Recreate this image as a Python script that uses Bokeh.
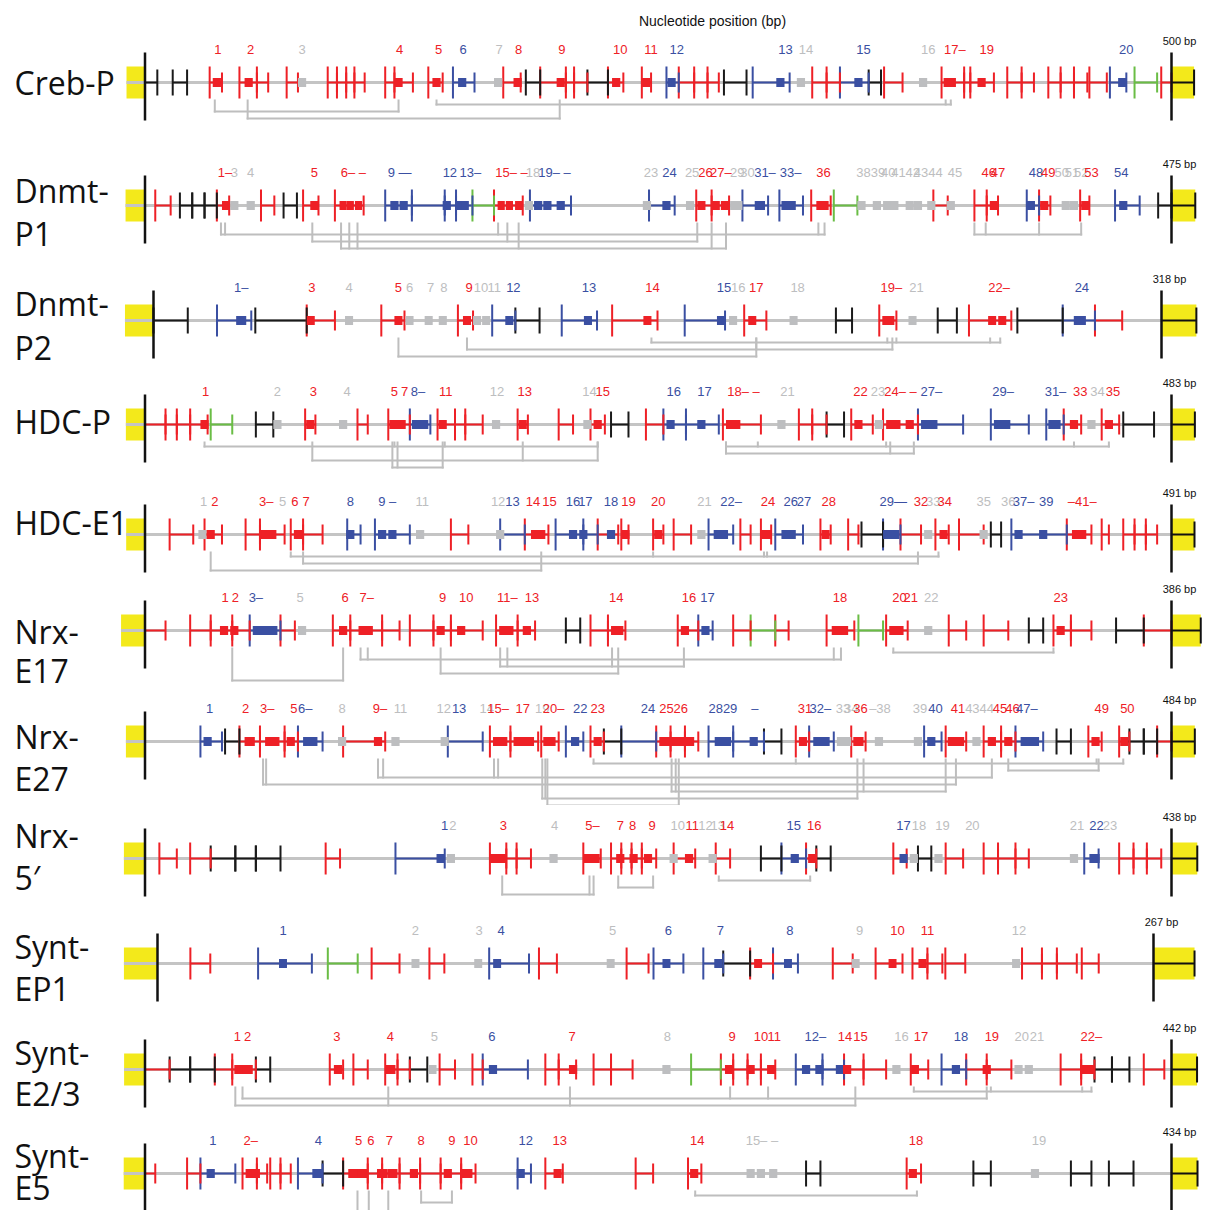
from bokeh.plotting import figure
from bokeh.models import Range1d, Label, ColumnDataSource
from bokeh.layouts import column
from bokeh.embed import file_html
from bokeh.resources import INLINE
from bokeh.core.properties import value

# ---------------- data (positions in per-mille of promoter length) ----------------
TITLE = "Nucleotide position (bp)"
ROW_NAMES = [["Creb-P"], ["Dnmt-", "P1"], ["Dnmt-", "P2"], ["HDC-P"], ["HDC-E1"],
             ["Nrx-", "E17"], ["Nrx-", "E27"], ["Nrx-", "5\u2032"], ["Synt-", "EP1"],
             ["Synt-", "E2/3"], ["Synt-", "E5"]]
ROW_LENGTHS = [500, 475, 318, 483, 491, 386, 484, 438, 267, 442, 434]
LEFT_BOX_BP = 9
RIGHT_BOX_BP = 11

CREB_SEGS = [(0,12,'k'),(27,41,'k'),(63,75,'r'),(92,109,'r'),(109,120,'r'),(138,149,'r'),
    (178,187,'r'),(187,196,'r'),(196,204,'r'),(204,214,'r'),(234,243,'r'),(243,261,'r'),
    (276,290,'r'),(300,321,'b'),(349,366,'r'),(371,385,'k'),(385,410,'r'),(410,418,'r'),
    (418,431,'r'),(431,451,'k'),(451,466,'r'),(484,493,'r'),(508,520,'b'),(520,535,'r'),
    (535,548,'r'),(548,559,'r'),(564,586,'k'),(592,628,'b'),(650,664,'r'),(664,677,'r'),
    (677,705,'b'),(705,717,'k'),(720,738,'r'),(776,798,'r'),(798,804,'r'),(804,827,'r'),
    (840,854,'r'),(854,866,'r'),(880,892,'r'),(892,905,'r'),(905,918,'r'),(920,937,'r'),
    (940,956,'b'),(964,986,'g'),(990,1000,'r')]
CREB_BOXES = [(70,8,'r'),(101,8,'r'),(153,8,'x'),(247,8,'r'),(284,8,'r'),(309,8,'b'),
    (344,8,'x'),(363,8,'r'),(405,8,'r'),(459,8,'r'),(488,8,'r'),(513,8,'b'),(619,8,'b'),
    (639,8,'x'),(695,8,'b'),(758,8,'x'),(784,12,'r'),(815,8,'r'),(952,8,'b')]
CREB_LABELS = [(71,'1','r'),(103,'2','r'),(153,'3','x'),(248,'4','r'),(286,'5','r'),
    (310,'6','b'),(345,'7','x'),(364,'8','r'),(406,'9','r'),(463,'10','r'),(493,'11','r'),
    (518,'12','b'),(624,'13','b'),(644,'14','x'),(700,'15','b'),(763,'16','x'),
    (789,'17\u2013','r'),(820,'19','r'),(956,'20','b')]
CREB_BRACKETS = [(0,[284,780,785]),(1,[68,247]),(2,[100,404])]

DNMT1_SEGS = [(10,25,'r'),(34,46,'k'),(46,58,'k'),(58,70,'k'),(70,82,'r'),(113,126,'r'),
    (135,148,'k'),(154,169,'r'),(185,213,'r'),(234,260,'b'),(260,292,'b'),(292,303,'b'),
    (303,319,'b'),(319,340,'g'),(340,368,'r'),(375,415,'b'),(491,516,'b'),(537,552,'r'),
    (552,569,'r'),(582,607,'b'),(618,641,'b'),(649,668,'r'),(671,694,'g'),(768,782,'r'),
    (808,820,'r'),(820,831,'r'),(859,871,'b'),(871,882,'r'),(911,920,'r'),(945,969,'b'),
    (987,1000,'k')]
DNMT1_BOXES = [(79,8,'r'),(87,8,'x'),(103,8,'x'),(165,8,'r'),(193,7,'r'),(200,7,'r'),
    (208,7,'r'),(243,8,'b'),(252,8,'b'),(294,8,'b'),(306,7,'b'),(312,7,'b'),(347,7,'r'),
    (355,7,'r'),(364,7,'r'),(374,8,'x'),(383,8,'b'),(392,8,'b'),(405,8,'b'),(489,8,'x'),
    (508,8,'b'),(531,8,'x'),(542,8,'r'),(556,8,'r'),(565,8,'r'),(576,12,'x'),(599,10,'b'),
    (627,14,'b'),(660,12,'r'),(698,8,'x'),(713,8,'x'),(723,8,'x'),(730,8,'x'),(745,8,'x'),
    (753,8,'x'),(766,8,'x'),(785,8,'x'),(827,8,'r'),(863,8,'b'),(876,8,'r'),(897,8,'x'),
    (905,8,'x'),(916,8,'r'),(953,8,'b')]
DNMT1_LABELS = [(78,'1\u2013','r'),(87,'3','x'),(103,'4','x'),(165,'5','r'),(203,'6\u2013 \u2013','r'),
    (248,'9 \u2014','b'),(297,'12','b'),(317,'13\u2013','b'),(357,'15\u2013 \u2013','r'),(378,'18','x'),
    (399,'19\u2013 \u2013','b'),(493,'23','x'),(511,'24','b'),(533,'25','x'),(546,'26','r'),
    (561,'27\u2013','r'),(577,'29','x'),(587,'30','x'),(604,'31\u2013','b'),(629,'33\u2013','b'),
    (661,'36','r'),(700,'38','x'),(714,'39','x'),(724,'40','x'),(734,'41','x'),(748,'42','x'),
    (756,'43','x'),(770,'44','x'),(789,'45','x'),(822,'46','r'),(831,'47','r'),(868,'48','b'),
    (880,'49','r'),(893,'50','x'),(903,'51','x'),(912,'52','x'),(922,'53','r'),(951,'54','b')]
DNMT1_BRACKETS = [(1,[74,78,344,656,662]),(1,[808,819,871,912]),(2,[163,353,538]),
    (3,[191,199,207,364,552,566])]

DNMT2_SEGS = [(0,34,'k'),(63,97,'b'),(101,152,'k'),(152,180,'r'),(226,249,'r'),(302,317,'r'),
    (336,359,'b'),(359,383,'k'),(405,440,'b'),(455,500,'r'),(527,567,'b'),(586,608,'r'),
    (677,693,'k'),(720,737,'r'),(778,797,'k'),(809,851,'r'),(857,902,'k'),(902,934,'b'),
    (934,961,'r')]
DNMT2_BOXES = [(87,10,'b'),(156,8,'r'),(194,8,'x'),(243,8,'r'),(254,8,'x'),(273,8,'x'),
    (287,8,'x'),(311,8,'r'),(321,8,'x'),(330,8,'x'),(353,8,'b'),(431,8,'b'),(490,8,'r'),
    (563,8,'b'),(575,8,'x'),(594,8,'r'),(635,8,'x'),(729,12,'r'),(753,8,'x'),(832,8,'r'),
    (842,8,'r'),(919,12,'b')]
DNMT2_LABELS = [(87,'1\u2013','b'),(157,'3','r'),(194,'4','x'),(243,'5','r'),(254,'6','x'),
    (275,'7','x'),(288,'8','x'),(313,'9','r'),(325,'10','x'),(338,'11','x'),(357,'12','b'),
    (432,'13','b'),(495,'14','r'),(566,'15','b'),(580,'16','x'),(598,'17','r'),(639,'18','x'),
    (732,'19\u2013','r'),(757,'21','x'),(839,'22\u2013','r'),(921,'24','b')]
DNMT2_BRACKETS = [(0,[494,728,737,830,840]),(1,[311,598,733]),(2,[243,598])]

HDCP_SEGS = [(0,20,'r'),(20,31,'r'),(31,44,'r'),(44,61,'r'),(64,85,'g'),(108,125,'k'),
    (156,166,'r'),(207,217,'r'),(237,258,'r'),(258,278,'b'),(285,302,'r'),(302,312,'r'),
    (312,329,'r'),(363,373,'r'),(403,417,'r'),(434,448,'r'),(454,471,'k'),(488,505,'r'),
    (505,527,'b'),(527,559,'b'),(563,600,'r'),(637,650,'r'),(650,664,'r'),(664,681,'k'),
    (688,709,'r'),(719,753,'r'),(753,797,'b'),(824,861,'b'),(878,895,'b'),(895,912,'r'),
    (932,949,'r'),(953,983,'k')]
HDCP_BOXES = [(58,8,'r'),(129,8,'x'),(161,8,'r'),(193,8,'x'),(246,16,'r'),(268,16,'b'),
    (290,8,'r'),(342,8,'x'),(368,8,'r'),(431,8,'x'),(441,8,'r'),(512,8,'b'),(542,8,'b'),
    (573,14,'r'),(620,8,'x'),(695,8,'r'),(715,8,'x'),(729,14,'r'),(745,8,'r'),(764,16,'b'),
    (835,16,'b'),(886,12,'b'),(905,8,'r'),(922,8,'x'),(939,8,'r')]
HDCP_LABELS = [(59,'1','r'),(129,'2','x'),(164,'3','r'),(197,'4','x'),(243,'5','r'),
    (253,'7','r'),(266,'8\u2013','b'),(293,'11','r'),(343,'12','x'),(370,'13','r'),
    (433,'14','x'),(446,'15','r'),(515,'16','b'),(545,'17','b'),(583,'18\u2013 \u2013','r'),
    (626,'21','x'),(697,'22','r'),(714,'23','x'),(736,'24\u2013 \u2013','r'),(766,'27\u2013','b'),
    (836,'29\u2013','b'),(887,'31\u2013','b'),(911,'33','r'),(928,'34','x'),(943,'35','r')]
HDCP_BRACKETS = [(0,[58,243,292,441]),(0,[566,597,722,905,939]),(1,[566,726,749]),
    (2,[163,368,441]),(3,[241,246,290])]

HDCE1_SEGS = [(24,47,'r'),(58,75,'r'),(98,112,'r'),(112,136,'r'),(142,154,'r'),(154,173,'r'),
    (197,210,'b'),(224,258,'b'),(298,315,'r'),(346,370,'b'),(370,393,'r'),(400,427,'b'),
    (427,441,'b'),(441,461,'r'),(464,471,'r'),(495,505,'r'),(515,532,'r'),(549,573,'b'),
    (580,590,'r'),(600,610,'r'),(614,641,'b'),(658,668,'r'),(685,695,'r'),(698,719,'k'),
    (719,736,'b'),(736,756,'r'),(770,783,'r'),(793,817,'r'),(824,834,'k'),(844,898,'b'),
    (898,922,'r'),(932,939,'r'),(953,964,'r'),(964,975,'r'),(975,986,'r')]
HDCE1_BOXES = [(56,8,'x'),(64,8,'r'),(120,16,'r'),(149,8,'r'),(200,8,'b'),(231,8,'b'),
    (241,8,'b'),(268,8,'x'),(346,8,'x'),(383,14,'r'),(417,8,'b'),(427,8,'b'),(454,8,'b'),
    (468,8,'r'),(500,8,'r'),(542,8,'x'),(561,14,'b'),(605,10,'r'),(627,14,'b'),(663,8,'r'),
    (727,16,'b'),(763,8,'x'),(778,8,'r'),(817,8,'x'),(851,8,'b'),(875,8,'b'),(910,14,'r')]
HDCE1_LABELS = [(57,'1','x'),(68,'2','r'),(118,'3\u2013','r'),(134,'5','x'),(146,'6','r'),
    (157,'7','r'),(200,'8','b'),(236,'9 \u2013','b'),(270,'11','x'),(344,'12','x'),(358,'13','b'),
    (378,'14','r'),(394,'15','r'),(417,'16','b'),(429,'17','b'),(454,'18','b'),(471,'19','r'),
    (500,'20','r'),(545,'21','x'),(571,'22\u2013','b'),(607,'24','r'),(629,'26','b'),
    (642,'27','b'),(666,'28','r'),(729,'29\u2014','b'),(756,'32','r'),(768,'33','x'),
    (779,'34','r'),(817,'35','x'),(841,'36','x'),(856,'37\u2013','b'),(878,'39','b'),
    (913,'\u201341\u2013','r')]
HDCE1_BRACKETS = [(0,[142,495,603,606,773]),(1,[154,753]),(2,[64,386])]

NRXE17_SEGS = [(0,20,'r'),(44,64,'r'),(64,85,'r'),(85,102,'r'),(102,132,'b'),(132,146,'r'),
    (183,200,'r'),(200,231,'r'),(231,248,'r'),(258,281,'r'),(281,298,'r'),(298,329,'r'),
    (342,363,'r'),(363,380,'r'),(410,424,'k'),(434,451,'r'),(451,468,'r'),(519,539,'r'),
    (539,553,'b'),(573,590,'r'),(590,614,'g'),(614,627,'r'),(664,691,'r'),(695,719,'g'),
    (722,743,'r'),(783,800,'r'),(817,841,'r'),(861,875,'k'),(885,902,'r'),(902,922,'r'),
    (946,973,'k'),(973,1000,'r')]
NRXE17_BOXES = [(77,8,'r'),(87,8,'r'),(117,24,'b'),(153,8,'x'),(193,8,'r'),(215,14,'r'),
    (288,8,'r'),(308,8,'r'),(352,14,'r'),(372,8,'r'),(460,12,'r'),(526,8,'r'),(546,8,'b'),
    (677,16,'r'),(732,14,'r'),(763,8,'x'),(892,8,'r')]
NRXE17_LABELS = [(78,'1','r'),(88,'2','r'),(108,'3\u2013','b'),(151,'5','x'),(195,'6','r'),
    (216,'7\u2013','r'),(290,'9','r'),(313,'10','r'),(353,'11\u2013','r'),(377,'13','r'),
    (459,'14','r'),(530,'16','r'),(548,'17','b'),(677,'18','r'),(735,'20','r'),(746,'21','r'),
    (766,'22','x'),(892,'23','r')]
NRXE17_BRACKETS = [(0,[729,885]),(1,[210,217,671,678]),(2,[346,353,455,525]),(3,[288,461]),
    (4,[85,193])]

NRXE27_SEGS = [(54,75,'b'),(78,92,'k'),(92,112,'r'),(112,136,'r'),(136,149,'r'),(149,173,'b'),
    (193,234,'r'),(295,329,'b'),(336,356,'r'),(356,383,'r'),(386,403,'r'),(410,427,'b'),
    (434,447,'r'),(447,464,'k'),(464,498,'b'),(498,512,'r'),(512,526,'r'),(526,539,'r'),
    (549,573,'b'),(573,603,'b'),(603,620,'k'),(634,647,'r'),(647,671,'b'),(688,702,'r'),
    (759,776,'b'),(780,800,'r'),(817,834,'r'),(834,848,'r'),(848,875,'b'),(888,902,'k'),
    (919,932,'r'),(949,959,'r'),(959,973,'k'),(973,986,'k'),(986,1000,'r')]
NRXE27_BOXES = [(61,8,'b'),(102,10,'r'),(124,14,'r'),(142,8,'r'),(161,14,'b'),(192,8,'x'),
    (227,8,'r'),(244,8,'x'),(292,8,'x'),(346,14,'r'),(369,20,'r'),(394,12,'r'),(419,8,'b'),
    (441,8,'r'),(518,34,'r'),(563,16,'b'),(593,8,'b'),(641,8,'r'),(659,16,'b'),(681,14,'x'),
    (695,10,'r'),(715,8,'x'),(753,8,'x'),(766,8,'b'),(790,16,'r'),(810,8,'x'),(825,8,'r'),
    (841,8,'r'),(862,18,'b'),(926,8,'r'),(954,8,'r')]
NRXE27_LABELS = [(63,'1','b'),(98,'2','r'),(119,'3\u2013','r'),(145,'5','r'),(156,'6\u2013','b'),
    (192,'8','x'),(229,'9\u2013','r'),(249,'11','x'),(291,'12','x'),(306,'13','b'),(333,'14','x'),
    (344,'15\u2013','r'),(368,'17','r'),(387,'19','x'),(398,'20\u2013','r'),(424,'22','b'),
    (441,'23','r'),(490,'24','b'),(508,'25','r'),(522,'26','r'),(556,'28','b'),(570,'29','b'),
    (594,'\u2013','b'),(643,'31','r'),(658,'32\u2013','b'),(680,'33','x'),(688,'34','x'),
    (697,'36','r'),(716,'\u201338','x'),(755,'39','x'),(770,'40','b'),(792,'41','r'),
    (806,'43','x'),(820,'44','x'),(833,'45','r'),(845,'46','r'),(859,'47\u2013','b'),
    (932,'49','r'),(957,'50','r')]
NRXE27_BRACKETS = [(0,[437,634,927,953]),(1,[841,929]),(2,[227,232,340,344,825]),
    (3,[115,118,790]),(4,[513,517,700,780]),(5,[387,390,694]),(6,[392,520])]

NRX5_SEGS = [(14,31,'r'),(44,64,'r'),(64,88,'k'),(88,108,'k'),(108,132,'k'),(176,190,'r'),
    (244,292,'b'),(336,352,'r'),(352,362,'r'),(362,376,'r'),(427,444,'r'),(454,464,'r'),
    (464,474,'r'),(474,484,'r'),(484,498,'r'),(515,536,'r'),(556,570,'r'),(600,620,'k'),
    (620,644,'b'),(644,654,'r'),(654,668,'k'),(729,742,'r'),(753,766,'k'),(780,797,'r'),
    (817,831,'r'),(831,848,'r'),(848,861,'r'),(915,929,'b'),(949,963,'r'),(963,976,'r'),
    (976,990,'r')]
NRX5_BOXES = [(288,8,'b'),(298,8,'x'),(344,16,'r'),(398,8,'x'),(435,16,'r'),(463,8,'r'),
    (476,8,'r'),(490,8,'r'),(515,8,'x'),(530,8,'r'),(553,8,'x'),(633,8,'b'),(650,8,'r'),
    (739,8,'b'),(749,8,'x'),(773,8,'x'),(905,8,'x'),(925,10,'b')]
NRX5_LABELS = [(292,'1','b'),(300,'2','x'),(349,'3','r'),(399,'4','x'),(436,'5\u2013','r'),
    (463,'7','r'),(475,'8','r'),(494,'9','r'),(519,'10','x'),(533,'11','r'),(546,'12','x'),
    (558,'13','x'),(567,'14','r'),(632,'15','b'),(652,'16','r'),(739,'17','b'),(754,'18','x'),
    (777,'19','x'),(806,'20','x'),(908,'21','x'),(927,'22','b'),(940,'23','x')]
NRX5_BRACKETS = [(0,[559,648]),(1,[461,495]),(2,[348,433,437])]

SYNTEP1_SEGS = [(33,53,'r'),(101,155,'b'),(171,201,'g'),(215,243,'r'),(273,288,'r'),
    (333,373,'b'),(383,401,'r'),(471,493,'r'),(498,528,'b'),(548,568,'b'),(568,595,'k'),
    (595,618,'r'),(618,643,'b'),(678,698,'r'),(721,748,'r'),(758,773,'r'),(773,788,'r'),
    (791,811,'r'),(868,888,'r'),(888,903,'r'),(903,923,'r'),(928,945,'r')]
SYNTEP1_BOXES = [(126,8,'b'),(259,8,'x'),(322,8,'x'),(341,8,'b'),(455,8,'x'),(511,8,'b'),
    (563,8,'b'),(603,8,'r'),(633,8,'b'),(701,8,'x'),(738,8,'r'),(768,8,'r'),(862,8,'x')]
SYNTEP1_LABELS = [(126,'1','b'),(259,'2','x'),(323,'3','x'),(345,'4','b'),(457,'5','x'),
    (513,'6','b'),(565,'7','b'),(635,'8','b'),(705,'9','x'),(743,'10','r'),(773,'11','r'),
    (865,'12','x')]
SYNTEP1_BRACKETS = []

SYNTE23_SEGS = [(0,24,'r'),(24,44,'k'),(44,68,'k'),(68,85,'r'),(85,108,'r'),(108,122,'k'),
    (180,193,'r'),(203,217,'r'),(234,246,'r'),(246,258,'r'),(258,275,'k'),(287,302,'r'),
    (319,329,'r'),(329,373,'b'),(390,403,'r'),(403,420,'r'),(437,454,'r'),(454,475,'r'),
    (532,561,'g'),(561,573,'r'),(573,587,'r'),(587,600,'r'),(600,614,'r'),(634,660,'b'),
    (660,681,'b'),(681,700,'r'),(700,722,'r'),(746,763,'r'),(776,800,'b'),(800,820,'r'),
    (820,844,'r'),(892,912,'r'),(912,925,'r'),(925,942,'k'),(942,959,'k'),(973,993,'r')]
SYNTE23_BOXES = [(92,10,'r'),(100,10,'r'),(188,8,'r'),(239,10,'r'),(280,8,'x'),(339,8,'b'),
    (417,8,'r'),(508,8,'x'),(569,8,'r'),(590,8,'r'),(610,8,'r'),(644,8,'b'),(657,8,'b'),
    (677,8,'b'),(684,8,'r'),(732,8,'x'),(750,8,'r'),(790,8,'b'),(820,8,'r'),(851,8,'x'),
    (861,8,'x'),(918,14,'r')]
SYNTE23_LABELS = [(90,'1','r'),(100,'2','r'),(187,'3','r'),(239,'4','r'),(282,'5','x'),
    (338,'6','b'),(416,'7','r'),(509,'8','x'),(572,'9','r'),(600,'10','r'),(613,'11','r'),
    (653,'12\u2013','b'),(682,'14','r'),(697,'15','r'),(737,'16','x'),(756,'17','r'),
    (795,'18','b'),(825,'19','r'),(854,'20','x'),(869,'21','x'),(922,'22\u2013','r')]
SYNTE23_BRACKETS = [(0,[749,824,913,922]),(1,[95,570,607,820]),(2,[88,237,414,692])]

SYNTE5_SEGS = [(0,10,'r'),(41,54,'r'),(54,88,'b'),(95,109,'r'),(109,119,'r'),(122,132,'r'),
    (132,142,'r'),(149,173,'b'),(173,193,'k'),(193,217,'r'),(217,231,'r'),(231,248,'r'),
    (248,268,'r'),(268,288,'r'),(288,308,'r'),(308,322,'r'),(363,376,'b'),(390,407,'r'),
    (478,495,'r'),(529,542,'r'),(644,658,'k'),(742,756,'r'),(807,824,'k'),(902,922,'k'),
    (939,963,'k')]
SYNTE5_BOXES = [(64,8,'b'),(105,14,'r'),(168,10,'b'),(203,10,'r'),(212,10,'r'),(231,10,'r'),
    (241,10,'r'),(262,8,'r'),(295,8,'r'),(313,12,'r'),(366,8,'b'),(402,8,'r'),(535,8,'r'),
    (590,8,'x'),(600,8,'x'),(612,8,'x'),(748,8,'r'),(867,8,'x')]
SYNTE5_LABELS = [(66,'1','b'),(103,'2\u2013','r'),(169,'4','b'),(208,'5','r'),(220,'6','r'),
    (238,'7','r'),(269,'8','r'),(299,'9','r'),(317,'10','r'),(371,'12','b'),(404,'13','r'),
    (538,'14','r'),(601,'15\u2013 \u2013','x'),(751,'18','r'),(871,'19','x')]
SYNTE5_BRACKETS = [(0,[536,752]),(1,[269,299]),(4,[207,218,237])]

ROW_SEGS = [CREB_SEGS, DNMT1_SEGS, DNMT2_SEGS, HDCP_SEGS, HDCE1_SEGS, NRXE17_SEGS,
            NRXE27_SEGS, NRX5_SEGS, SYNTEP1_SEGS, SYNTE23_SEGS, SYNTE5_SEGS]
ROW_BOXES = [CREB_BOXES, DNMT1_BOXES, DNMT2_BOXES, HDCP_BOXES, HDCE1_BOXES, NRXE17_BOXES,
             NRXE27_BOXES, NRX5_BOXES, SYNTEP1_BOXES, SYNTE23_BOXES, SYNTE5_BOXES]
ROW_LABELS = [CREB_LABELS, DNMT1_LABELS, DNMT2_LABELS, HDCP_LABELS, HDCE1_LABELS, NRXE17_LABELS,
              NRXE27_LABELS, NRX5_LABELS, SYNTEP1_LABELS, SYNTE23_LABELS, SYNTE5_LABELS]
ROW_BRACKETS = [CREB_BRACKETS, DNMT1_BRACKETS, DNMT2_BRACKETS, HDCP_BRACKETS, HDCE1_BRACKETS,
                NRXE17_BRACKETS, NRXE27_BRACKETS, NRX5_BRACKETS, SYNTEP1_BRACKETS,
                SYNTE23_BRACKETS, SYNTE5_BRACKETS]

# ---------------- layout / style ----------------
W = 1211
PAGE = 0
LAYOUT = [
    dict(top=0, h=145, cy=82, x0=144.5, x1=1171, names=[0]),
    dict(top=145, h=117, cy=205, x0=144.5, x1=1171, names=[15, -28]),
    dict(top=262, h=110, cy=320, x0=153, x1=1161, names=[17, -27]),
    dict(top=372, h=106, cy=424, x0=144.5, x1=1171, names=[3]),
    dict(top=478, h=104, cy=534, x0=144.5, x1=1171, names=[12]),
    dict(top=582, h=109, cy=630, x0=144.5, x1=1171, names=[-1, -40]),
    dict(top=691, h=114, cy=741, x0=144.5, x1=1171, names=[5, -37]),
    dict(top=805, h=107, cy=858, x0=144.5, x1=1171, names=[23, -19]),
    dict(top=912, h=105, cy=963, x0=157, x1=1153, names=[17, -25]),
    dict(top=1017, h=105, cy=1069, x0=144.5, x1=1171, names=[17, -24]),
    dict(top=1122, h=88, cy=1173, x0=144.5, x1=1171, names=[18, -14]),
]
BP_LABEL_Y = 42
COLORS = {'r': '#EE2026', 'b': '#3A4FA2', 'k': '#1A1A1A', 'g': '#6ABD45', 'x': '#BDBEC0'}
YELLOW = '#F3E91B'
BASELINE = '#C4C4C4'
BRACKET = '#BEBEBE'
NUM_FONT = value("Liberation Sans")


def build_row(i):
    L = ROW_LENGTHS[i]
    lay = LAYOUT[i]
    f = L / 1000.0
    x0, x1 = lay["x0"], lay["x1"]
    bpx = L / (x1 - x0)
    p = figure(width=W, height=lay["h"],
               x_range=Range1d((PAGE - x0) * bpx, (PAGE + W - x0) * bpx),
               y_range=Range1d(-(lay["top"] + lay["h"] - lay["cy"]), lay["cy"] - lay["top"]),
               output_backend="svg", toolbar_location=None, min_border=0,
               x_axis_location=None, y_axis_location=None)
    p.grid.visible = False
    p.outline_line_color = None
    p.background_fill_color = "white"
    p.border_fill_color = "white"

    # yellow boxes
    p.quad(left=[-LEFT_BOX_BP, L], right=[0, L + RIGHT_BOX_BP], bottom=[-16, -16],
           top=[16, 16], fill_color=YELLOW, line_color=None)
    # baseline
    p.segment(x0=[-LEFT_BOX_BP], y0=[0], x1=[L], y1=[0], line_color=BASELINE, line_width=3)

    # brackets
    bx0, by0, bx1, by1 = [], [], [], []
    for level, pos in ROW_BRACKETS[i]:
        yl = -(22 + 7 * level)
        xs = [q * f for q in pos]
        for x in xs:
            bx0.append(x); by0.append(-18); bx1.append(x); by1.append(yl)
        bx0.append(min(xs)); by0.append(yl); bx1.append(max(xs)); by1.append(yl)
    if bx0:
        p.segment(x0=bx0, y0=by0, x1=bx1, y1=by1, line_color=BRACKET, line_width=2,
                  line_cap="square")

    # motif segments
    segs = ROW_SEGS[i]
    sx0 = [a * f for a, b, c in segs]
    sx1 = [b * f for a, b, c in segs]
    scol = [COLORS[c] for a, b, c in segs]
    st = [13 if c == 'k' else 16 for a, b, c in segs]
    et = [13 if c == 'k' else 10 for a, b, c in segs]
    src = ColumnDataSource(dict(x0=sx0, x1=sx1, c=scol, z=[0] * len(segs),
                                st=st, sb=[-v for v in st], et=et, eb=[-v for v in et]))
    p.segment(x0="x0", y0="z", x1="x1", y1="z", line_color="c", line_width=2, source=src)
    p.segment(x0="x0", y0="sb", x1="x0", y1="st", line_color="c", line_width=2, source=src)
    p.segment(x0="x1", y0="eb", x1="x1", y1="et", line_color="c", line_width=2, source=src)

    # boxes
    boxes = ROW_BOXES[i]
    bsrc = ColumnDataSource(dict(
        l=[(c - w / 2) * f for c, w, k in boxes], r=[(c + w / 2) * f for c, w, k in boxes],
        b=[-4.5] * len(boxes), t=[4.5] * len(boxes), c=[COLORS[k] for c, w, k in boxes]))
    p.quad(left="l", right="r", bottom="b", top="t", fill_color="c", line_color=None, source=bsrc)

    # end markers
    p.segment(x0=[0, L], y0=[-38, -38], x1=[0, L], y1=[30, 30], line_color="#111111",
              line_width=2.5)
    p.segment(x0=[L, L + RIGHT_BOX_BP], y0=[0, -13], x1=[L + RIGHT_BOX_BP, L + RIGHT_BOX_BP],
              y1=[0, 13], line_color="#111111", line_width=2)

    # site numbers
    labels = ROW_LABELS[i]
    lsrc = ColumnDataSource(dict(x=[q * f for q, t, c in labels], y=[33] * len(labels),
                                 t=[t for q, t, c in labels], c=[COLORS[c] for q, t, c in labels]))
    p.text(x="x", y="y", text="t", text_color="c", text_font=NUM_FONT, text_font_size="13px",
           text_align="center", text_baseline="middle", source=lsrc)

    # row name
    for txt, yy in zip(ROW_NAMES[i], lay["names"]):
        p.add_layout(Label(x=14 - PAGE, y=yy, x_units="screen", text=txt, text_font="Open Sans",
                           text_font_size="32px", text_color="#111111", text_baseline="middle"))
    # length label
    p.add_layout(Label(x=x1 + 8 - PAGE, y=BP_LABEL_Y, x_units="screen", text="%d bp" % L,
                       text_font="Liberation Sans", text_font_size="11px", text_color="#111111",
                       text_align="center", text_baseline="middle"))
    if i == 0:
        p.add_layout(Label(x=712 - PAGE, y=62, x_units="screen", text=TITLE,
                           text_font="Liberation Sans", text_font_size="14px",
                           text_color="#111111", text_align="center", text_baseline="middle"))
    return p


figs = [build_row(i) for i in range(len(ROW_LENGTHS))]
layout = column(*figs, spacing=0)
open("out.html", "w").write(file_html(layout, INLINE, "chart"))
